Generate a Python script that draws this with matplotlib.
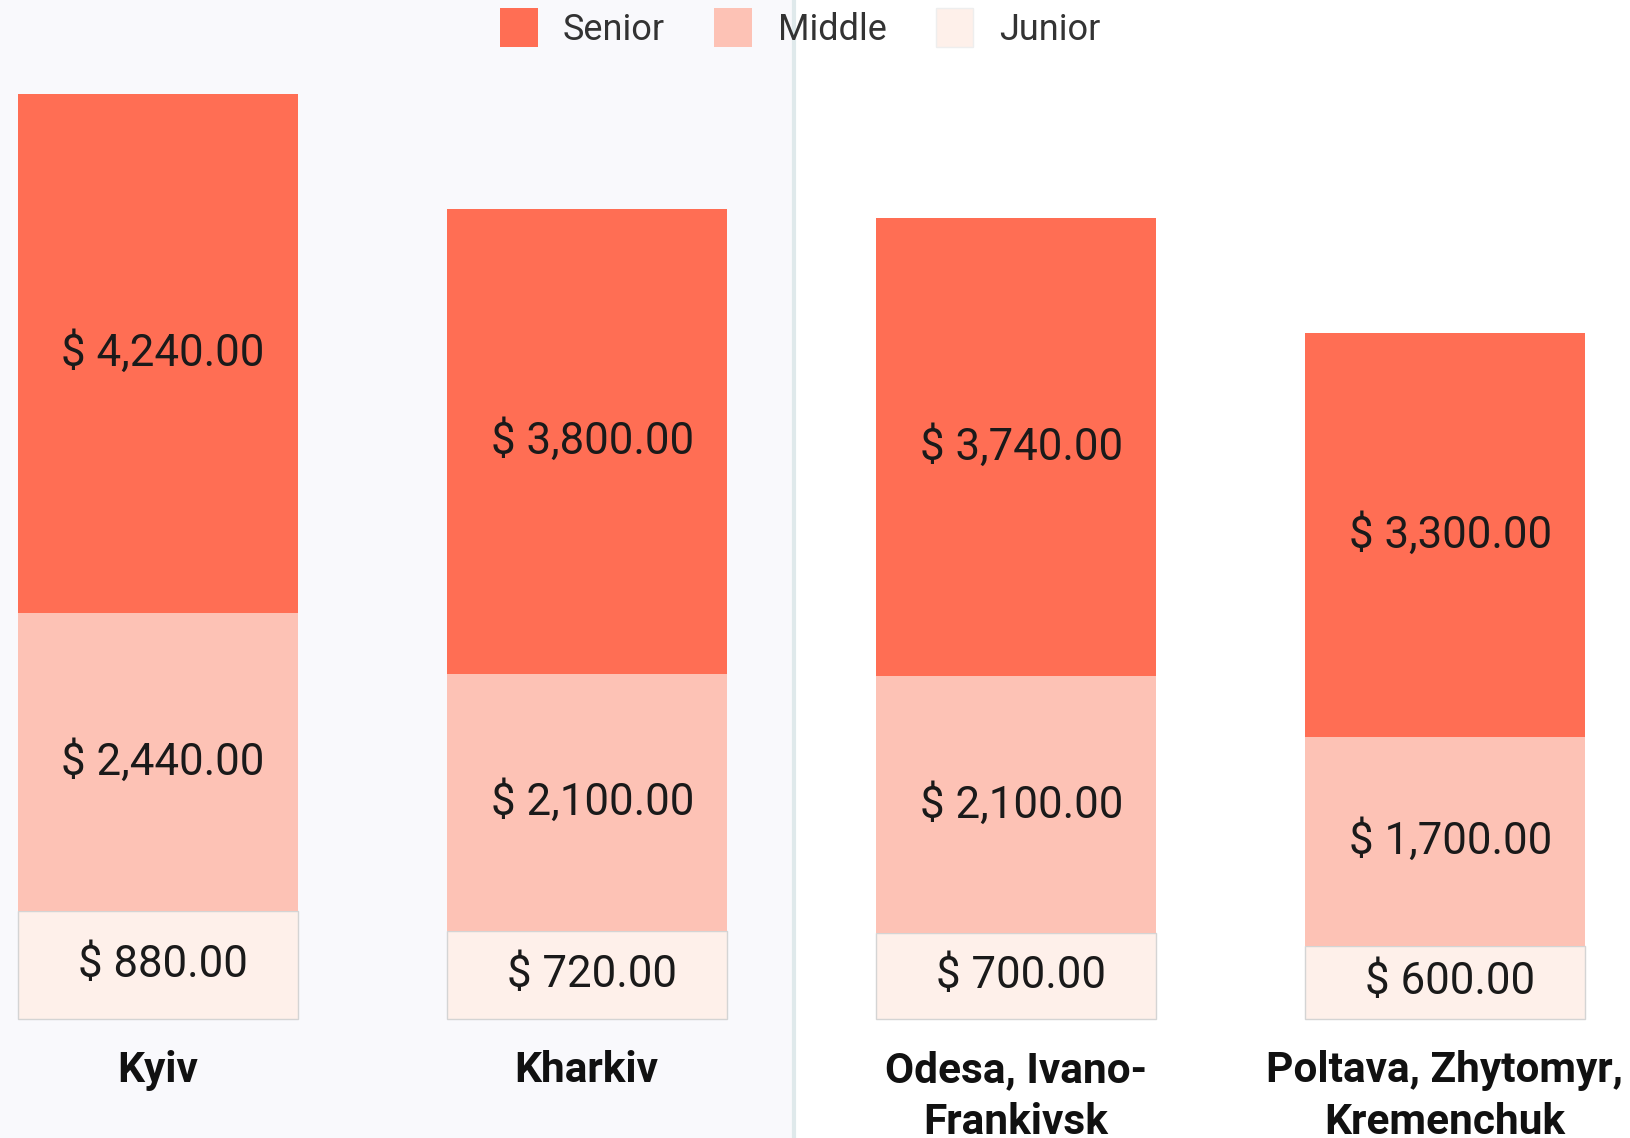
import numpy as np
import matplotlib
matplotlib.use("Agg")
import matplotlib.pyplot as plt
from matplotlib.patches import Rectangle
from matplotlib.lines import Line2D

plt.rcParams['font.family'] = ['Roboto', 'DejaVu Sans']

# data
cities = ['Kyiv', 'Kharkiv', 'Odesa, Ivano-\nFrankivsk', 'Poltava, Zhytomyr,\nKremenchuk']
junior = [880, 720, 700, 600]
middle = [2440, 2100, 2100, 1700]
senior = [4240, 3800, 3740, 3300]

levels = ['Senior', 'Middle', 'Junior']
colors = {'Senior': '#ff6e54', 'Middle': '#fdc2b5', 'Junior': '#fef0ea'}

W, H = 1631, 1138
fig = plt.figure(figsize=(W / 100, H / 100), dpi=100)
fig.patch.set_facecolor('white')

# left shaded panel + divider line (behind the axes)
fig.patches.append(Rectangle((0, 0), 793 / W, 1, transform=fig.transFigure,
                             facecolor='#f9f9fc', edgecolor='none', zorder=-2))
fig.add_artist(Line2D([794.5 / W, 794.5 / W], [0, 1], transform=fig.transFigure,
                      color='#dfe9eb', lw=3, zorder=-1))

ax = fig.add_axes([0, 0, 1, 1])
ax.set_facecolor('none')
ax.set_xlim(-0.3673, 3.434)
ax.set_ylim(-972, 8324)
ax.axis('off')

x = np.arange(len(cities))
w = 0.6526
b1 = ax.bar(x, junior, w, color=colors['Junior'], edgecolor='#d4d4d4', lw=1, label='Junior', zorder=3)
b2 = ax.bar(x, middle, w, bottom=junior, color=colors['Middle'], lw=0, label='Middle', zorder=3)
bottom2 = np.array(junior) + np.array(middle)
b3 = ax.bar(x, senior, w, bottom=bottom2, color=colors['Senior'], lw=0, label='Senior', zorder=3)

for bars in (b1, b2, b3):
    anns = ax.bar_label(bars, labels=[f'$ {v:,.2f}' for v in bars.datavalues],
                        label_type='center', fontsize=31.5, color='#1a1a1a', zorder=4)
    for a in anns:
        a.xyann = (4, 0)

for xi, name in zip(x, cities):
    ax.text(xi, -253, name, ha='center', va='top', fontsize=30.5,
            fontweight='bold', color='#111111', linespacing=1.33)

handles = [Rectangle((0, 0), 1, 1, facecolor=colors[k],
                     edgecolor='#eeeeee' if k == 'Junior' else 'none') for k in levels]
leg = fig.legend(handles, levels, loc='center', bbox_to_anchor=(800 / W, 1 - 28 / H),
                 ncol=3, frameon=False, fontsize=26, handlelength=1.05, handleheight=1.25,
                 handletextpad=0.7, columnspacing=1.36, borderaxespad=0)
for t in leg.get_texts():
    t.set_color('#333333')

fig.savefig('out.png', dpi=100)
